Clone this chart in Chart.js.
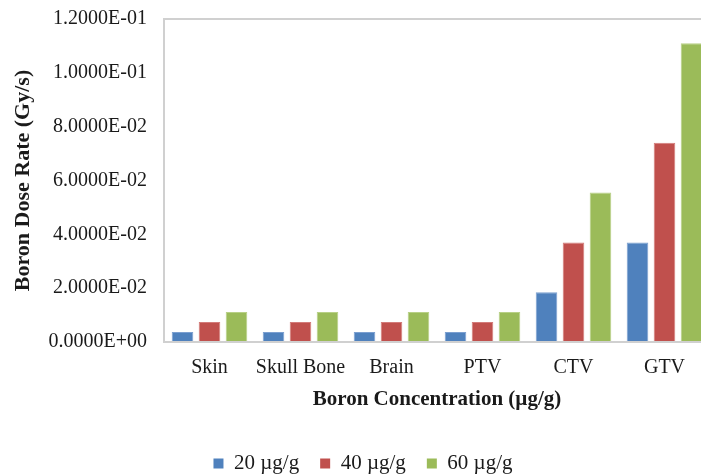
<!DOCTYPE html>
<html>
<head>
<meta charset="utf-8">
<script src="https://cdn.jsdelivr.net/npm/chart.js@4/dist/chart.umd.min.js"></script>
<style>
	html, body { margin:0; padding:0; background:#fff; overflow:hidden; }
	#wrap { width:726px; height:474px; }
</style>
</head>
<body>
<div id="wrap"><canvas id="chart" width="726" height="474"></canvas></div>
<script>
const categories = ['Skin', 'Skull Bone', 'Brain', 'PTV', 'CTV', 'GTV'];
const seriesNames = ['20 \u00b5g/g', '40 \u00b5g/g', '60 \u00b5g/g'];
const dose20 = [0.0037, 0.0037, 0.0037, 0.0037, 0.0185, 0.037];
const dose40 = [0.0074, 0.0074, 0.0074, 0.0074, 0.037, 0.074];
const dose60 = [0.0111, 0.0111, 0.0111, 0.0111, 0.0555, 0.111];
const yTop = 0.12;
const yStep = 0.02;
const fills = ['#4f81bd', '#c0504d', '#9bbb59'];
const edges = ['#7b9fd0', '#d37b79', '#b8d086'];

const serif = "'Liberation Serif', 'Times New Roman', serif";
const axisGrey = '#d0d0d0';
const ink = '#1a1a1a';

// excel-ish scientific labels, e.g. 1.2000E-01
function sci(v) {
	const [m, e] = Number(v).toExponential(4).split('e');
	return m + 'E' + e[0] + e.slice(1).padStart(2, '0');
}

const datasets = [dose20, dose40, dose60].map((vals, i) => ({
	label: seriesNames[i],
	data: vals,
	backgroundColor: fills[i],
	borderColor: edges[i],
	borderWidth: 1,
	categoryPercentage: 0.89,
	barPercentage: 0.8,
	yAxisID: 'y'
}));

new Chart(document.getElementById('chart'), {
	type: 'bar',
	data: { labels: categories, datasets },
	options: {
		responsive: false,
		animation: false,
		layout: { padding: { top: 19, left: 0, right: 0, bottom: -10 } },
		plugins: {
			tooltip: { enabled: false },
			legend: {
				position: 'bottom',
				labels: {
					color: ink,
					font: { family: serif, size: 21 },
					boxWidth: 10,
					boxHeight: 10,
					padding: 21,
					generateLabels: chart => chart.data.datasets.map((ds, i) => ({
						text: ds.label,
						fillStyle: fills[i],
						strokeStyle: fills[i],
						lineWidth: 0,
						datasetIndex: i,
						fontColor: ink
					}))
				}
			}
		},
		scales: {
			x: {
				grid: { display: false, drawTicks: false },
				border: { display: true, color: axisGrey, width: 2 },
				ticks: {
					color: ink,
					font: { family: serif, size: 20 },
					padding: 14,
					maxRotation: 0,
					minRotation: 0,
					autoSkip: false
				},
				title: {
					display: true,
					text: 'Boron Concentration (\u00b5g/g)',
					color: ink,
					font: { family: serif, size: 21, weight: 'bold' },
					padding: { top: 8, bottom: 20 }
				},
				afterFit: s => { s.height = 90; }
			},
			y: {
				min: 0,
				max: yTop,
				// invisible tick marks push the labels off the axis without growing the top padding;
				// only the top gridline is drawn, as the frame line of the plot area
				grid: {
					display: true,
					drawOnChartArea: true,
					drawTicks: true,
					tickLength: 17,
					tickColor: 'rgba(0,0,0,0)',
					lineWidth: 2,
					color: ctx => (ctx.tick && ctx.tick.value >= yTop - 1e-9) ? axisGrey : 'rgba(0,0,0,0)'
				},
				border: { display: true, color: axisGrey, width: 2 },
				ticks: {
					stepSize: yStep,
					color: ink,
					font: { family: serif, size: 20 },
					padding: 0,
					callback: v => sci(v)
				},
				title: {
					display: true,
					text: 'Boron Dose Rate (Gy/s)',
					color: ink,
					font: { family: serif, size: 22, weight: 'bold' },
					padding: { top: 10, bottom: 0 }
				},
				afterFit: s => { s.width = 164; }
			},
			// empty right axis, just keeps the plot edge at 710px like the original
			yr: {
				position: 'right',
				display: true,
				grid: { display: false, drawTicks: false },
				border: { display: true, color: axisGrey, width: 2 },
				ticks: { display: false },
				afterFit: s => { s.width = 16; }
			}
		}
	}
});
</script>
</body>
</html>
